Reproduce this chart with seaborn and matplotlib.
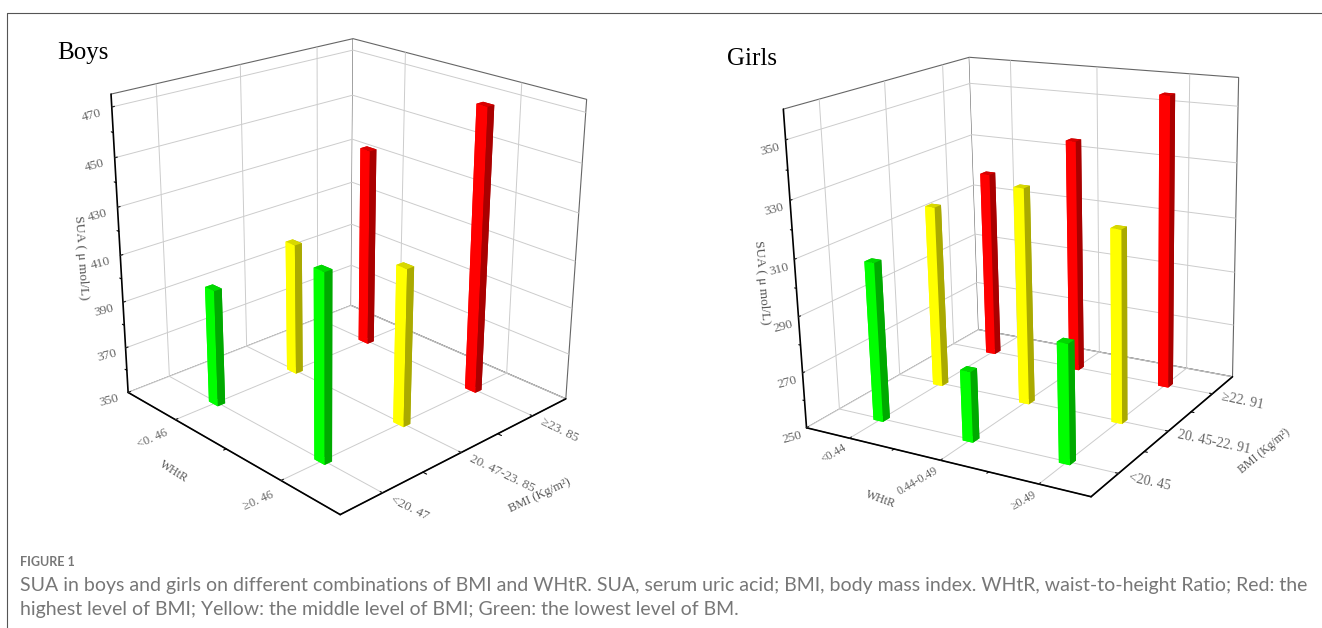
import numpy as np
import matplotlib.pyplot as plt
from matplotlib.lines import Line2D
import seaborn as sns

# datos
boys_whtr_pos = [1, 1, 1, 2, 2, 2]
boys_bmi_pos = [1, 2, 3, 1, 2, 3]
boys_sua = [400.0, 407.5, 437.8, 427.4, 416.5, 470.5]
boys_whtr_labels = ['<0. 46', '≥0. 46']
boys_bmi_labels = ['<20. 47', '20. 47-23. 85', '≥23. 85']

girls_whtr_pos = [1, 1, 1, 2, 2, 2, 3, 3, 3]
girls_bmi_pos = [1, 2, 3, 1, 2, 3, 1, 2, 3]
girls_sua = [307.0, 317.1, 320.7, 275.0, 328.1, 336.7, 291.1, 318.4, 356.0]
girls_whtr_labels = ['<0.44', '0.44-0.49', '≥0.49']
girls_bmi_labels = ['<20. 45', '20. 45-22. 91', '≥22. 91']

boys_z_ticks = [350, 370, 390, 410, 430, 450, 470]
girls_z_ticks = [250, 270, 290, 310, 330, 350]

# colores por nivel de BMI: cara clara, cara oscura, tapa
bright = sns.color_palette(['#00ff00', '#ffff00', '#ff0000'])
dark = sns.color_palette(['#00aa00', '#aaaa00', '#aa0000'])
lid = sns.color_palette(['#00d800', '#d8d800', '#d80000'])

W, H = 1322, 628
SIDE = 500
sns.set_style('white', {'grid.color': '#cccccc'})
plt.rcParams['grid.linewidth'] = 0.7
plt.rcParams['font.family'] = ['Liberation Serif', 'DejaVu Serif']

fig = plt.figure(figsize=(W / 100, H / 100), dpi=100)


def px(x, y):
    return x / W, 1 - y / H


def panel(cx, cy, view, focal, box, whtr, bmi, sua, xlim, ylim, zlim, xlabels, ylabels, zticks, width, rots, pads, sizes):
    ax = fig.add_axes([(cx - SIDE / 2) / W, 1 - (cy + SIDE / 2) / H, SIDE / W, SIDE / H], projection='3d')
    ax.patch.set_alpha(0)
    ax.view_init(elev=view[0], azim=view[1], roll=view[2])
    ax.set_proj_type('persp', focal_length=focal)
    ax.set_box_aspect(box, zoom=float(np.linalg.norm(box)))

    # colores de las 6 caras de cada barra: -z, +z, -y, +y, -x, +x
    colors = []
    for b in bmi:
        c = bright[b - 1], lid[b - 1], bright[b - 1], dark[b - 1], bright[b - 1], dark[b - 1]
        colors.extend(c)
    ax.bar3d(np.array(whtr) - width / 2, np.array(bmi) - width / 2, zlim[0],
             width, width, np.array(sua) - zlim[0], color=colors, shade=False, linewidth=0)

    # ticks menores
    x_minor = np.arange(xlim[0] + 1, xlim[1], 1)
    y_minor = np.arange(ylim[0] + 1, ylim[1], 1)
    z_minor = np.array(zticks[:-1]) + 10
    for v in x_minor:
        ax.plot([v, v], [ylim[0], ylim[0] - 0.03], [zlim[0], zlim[0]], color='k', lw=0.8)
    for v in y_minor:
        ax.plot([xlim[1], xlim[1] + 0.03], [v, v], [zlim[0], zlim[0]], color='k', lw=0.8)
    for v in z_minor:
        ax.plot([xlim[0] - 0.02, xlim[0]], [ylim[0], ylim[0]], [v, v], color='k', lw=0.8)

    ax.set_xlim(*xlim)
    ax.set_ylim(*ylim)
    ax.set_zlim(*zlim)
    ax.set_xticks(range(1, len(xlabels) + 1))
    ax.set_yticks(range(1, len(ylabels) + 1))
    ax.set_zticks(zticks)
    ax.set_xticklabels(xlabels, rotation=rots[0], fontsize=sizes[0], color='#666666',
                       ha='right', va='center', rotation_mode='anchor')
    ax.set_yticklabels(ylabels, rotation=rots[1], fontsize=sizes[1], color='#666666',
                       ha='left', va='bottom', rotation_mode='anchor')
    ax.set_zticklabels([str(z) for z in zticks], rotation=rots[2], fontsize=sizes[2], color='#666666')
    ax.tick_params(axis='x', pad=pads[0])
    ax.tick_params(axis='y', pad=pads[1])
    ax.tick_params(axis='z', pad=pads[2])
    ax.zaxis.set_ticks_position('lower')

    for axis in (ax.xaxis, ax.yaxis, ax.zaxis):
        axis.set_pane_color((1, 1, 1, 1))
        axis.pane.set_edgecolor('#666666')
        axis.pane.set_linewidth(0.8)
        axis.line.set_color('black')
        axis.line.set_linewidth(1.2)
        axis._axinfo['tick']['inward_factor'] = 0.0
        axis._axinfo['tick']['outward_factor'] = 0.12
        axis._axinfo['tick']['linewidth'] = {True: 0.9, False: 0.6}
        axis._axinfo['tick']['color'] = 'black'
    return ax


panel(340.5, 259.13, (22.257, -43.849, -0.339), 0.544, (0.625, 0.627, 0.626),
      boys_whtr_pos, boys_bmi_pos, boys_sua, (0.5, 2.5), (0.5, 3.5), (350, 475),
      boys_whtr_labels, boys_bmi_labels, boys_z_ticks, 0.09, (24, -26, 15), (-2, -3, 0), (9, 9.5, 9.5))
panel(1016.5, 258.81, (16.927, -58.863, 1.389), 0.533, (0.624, 0.621, 0.626),
      girls_whtr_pos, girls_bmi_pos, girls_sua, (0.5, 3.5), (0.5, 3.5), (250, 360),
      girls_whtr_labels, girls_bmi_labels, girls_z_ticks, 0.11, (30, -12, 15), (-4, -3, -2), (8.5, 10, 9.5))

# titulos y nombres de ejes
fig.text(*px(57, 53), 'Boys', fontsize=18, color='black', va='center')
fig.text(*px(727, 59), 'Girls', fontsize=18, color='black', va='center')
lab = dict(color='#555555', ha='center', va='center', fontsize=9.5)
fig.text(*px(81, 258), 'SUA ( μ mol/L)', rotation=-86, **lab)
fig.text(*px(174, 472), 'WHtR', rotation=-32, fontsize=8.5, color='#555555', ha='center', va='center')
fig.text(*px(540, 495), 'BMI (Kg/m²)', rotation=25, fontsize=9, color='#555555', ha='center', va='center')
fig.text(*px(762, 283), 'SUA ( μ mol/L)', rotation=-85, **lab)
fig.text(*px(881, 499), 'WHtR', rotation=-20, fontsize=8.5, color='#555555', ha='center', va='center')
fig.text(*px(1264, 451), 'BMI (Kg/m²)', rotation=40, fontsize=8.5, color='#555555', ha='center', va='center')

# marco y pie de figura
fig.add_artist(Line2D([7 / W, 7 / W, 1], [0, 1 - 13 / H, 1 - 13 / H], color='#555555', lw=0.8))
cap = dict(family=['Lato', 'DejaVu Sans'], color='#777777', va='center')
fig.text(*px(20, 562), 'FIGURE 1', fontsize=9, fontweight='bold', **cap)
fig.text(*px(20, 585), 'SUA in boys and girls on different combinations of BMI and WHtR. SUA, serum uric acid; BMI, body mass index. WHtR, waist-to-height Ratio; Red: the', fontsize=14, **cap)
fig.text(*px(20, 610), 'highest level of BMI; Yellow: the middle level of BMI; Green: the lowest level of BM.', fontsize=14, **cap)

fig.savefig('out.png', dpi=100)
